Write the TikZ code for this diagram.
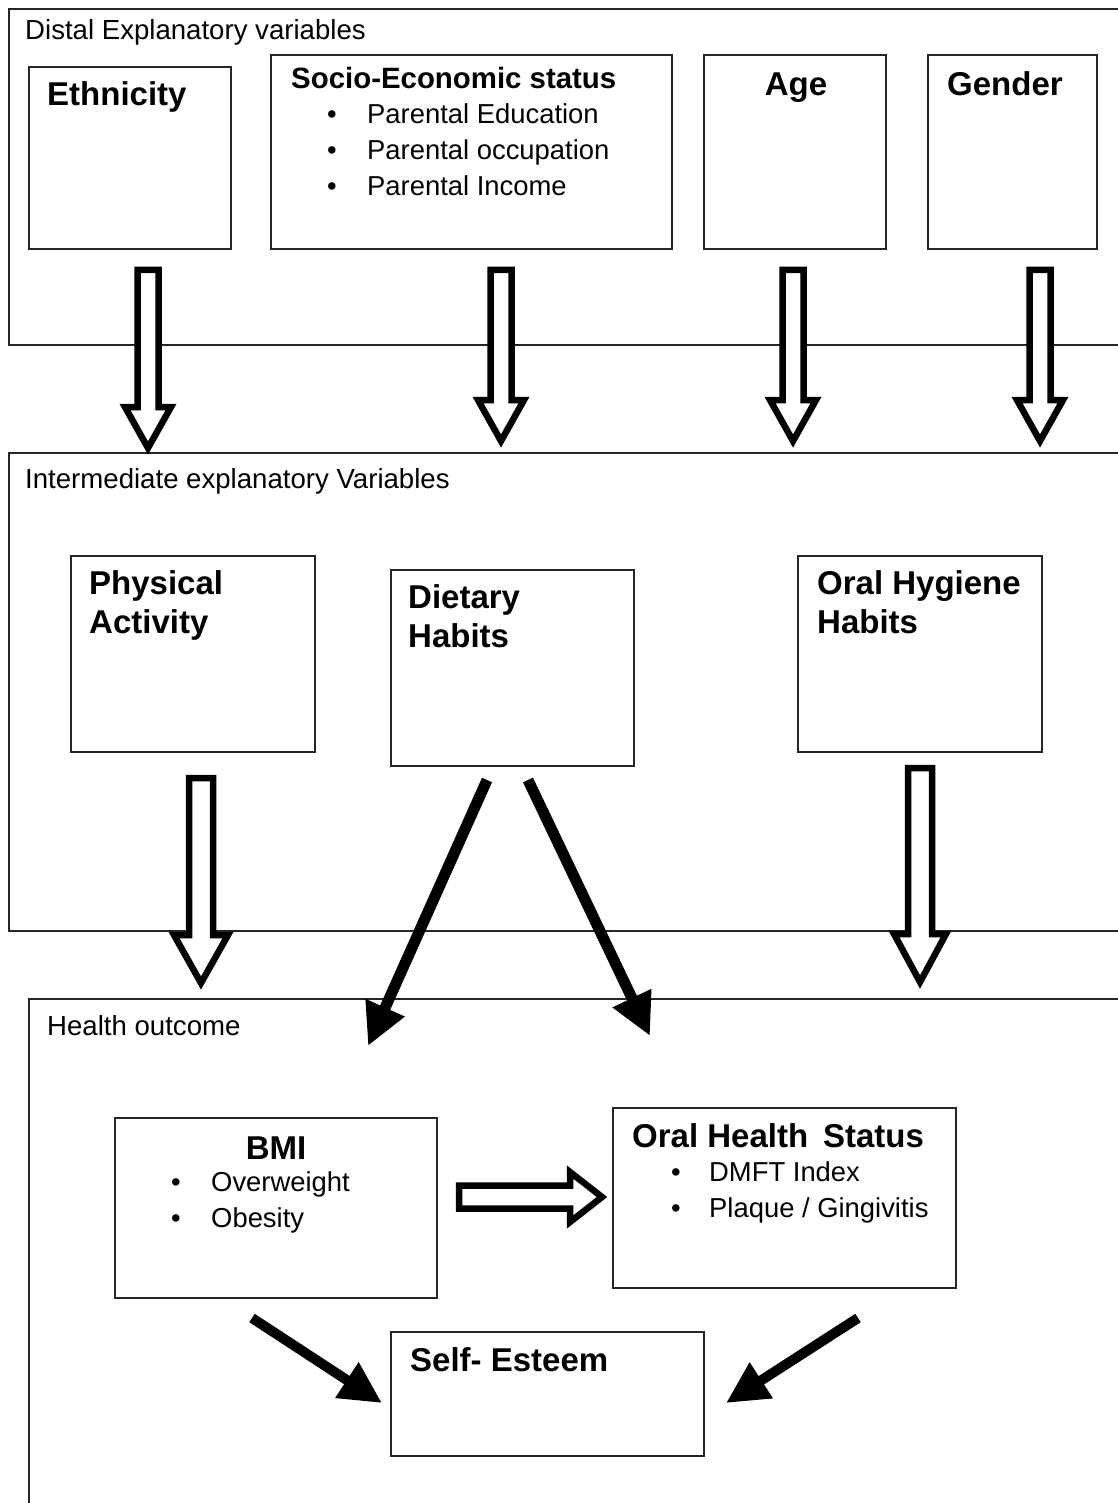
\documentclass[tikz,border=0pt]{standalone}
\usepackage{fontspec}
\setmainfont{Liberation Sans}
\usetikzlibrary{calc,arrows.meta}
\begin{document}
\begin{tikzpicture}[x=1pt,y=-1pt,
  frame/.style={draw=black!85,line width=2pt},
  box/.style={draw=black!85,line width=2pt,fill=white,anchor=north west,inner sep=0pt,outer sep=0pt},
  lab/.style={anchor=base west,inner sep=0pt,font=\fontsize{27.6}{32}\selectfont},
  ttl/.style={anchor=base west,inner sep=0pt,font=\fontsize{33}{38}\selectfont\bfseries},
  itm/.style={anchor=base west,inner sep=0pt,font=\fontsize{27.4}{32}\selectfont},
  bul/.style={anchor=base,inner sep=0pt,font=\fontsize{27.4}{32}\selectfont},
  thickarrow/.style={draw=black,line width=11pt,-{Triangle[length=42pt,width=40pt]}},
  hollow/.style args={#1/#2/#3}{draw=black,line width=6.5pt,fill=white,line join=miter,miter limit=10,
    to path={($(\tikztostart)!#1!90:(\tikztotarget)$)
      -- ($(\tikztotarget)!#3!(\tikztostart)!#1!-90:(\tikztostart)$)
      -- ($(\tikztotarget)!#3!(\tikztostart)!#2!-90:(\tikztostart)$)
      -- (\tikztotarget)
      -- ($(\tikztotarget)!#3!(\tikztostart)!#2!90:(\tikztostart)$)
      -- ($(\tikztotarget)!#3!(\tikztostart)!#1!90:(\tikztostart)$)
      -- ($(\tikztostart)!#1!-90:(\tikztotarget)$) -- cycle}}
]
\fill[white] (0,0) rectangle (1117,1503);
\useasboundingbox (0,0) rectangle (1117,1503);

% frames
\draw[frame] (1130,9) -- (9,9) -- (9,345) -- (1130,345);
\draw[frame] (1130,453) -- (9,453) -- (9,931) -- (1130,931);
\draw[frame] (1130,999) -- (29,999) -- (29,1520);

\node[lab] (distal) at (25,40) {Distal Explanatory variables};
\node[lab] (inter) at (25,488) {Intermediate explanatory Variables};
\node[lab] (health) at (47,1035) {Health outcome};

% distal boxes
\node[box,minimum width=202pt,minimum height=182pt] (eth) at (29,67) {};
\node[box,minimum width=401pt,minimum height=194pt] (ses) at (271,55) {};
\node[box,minimum width=182pt,minimum height=194pt] (age) at (704,55) {};
\node[box,minimum width=169pt,minimum height=194pt] (gen) at (928,55) {};

\node[ttl] (eth-t) at (47,106) {Ethnicity};
\node[ttl,font=\fontsize{29.4}{34}\selectfont\bfseries] (ses-t) at (291,89) {Socio-Economic status};
\node[bul] (ses-b1) at (332,124) {\textbullet};
\node[bul] (ses-b2) at (332,160) {\textbullet};
\node[bul] (ses-b3) at (332,196) {\textbullet};
\node[itm] (ses-i1) at (367,124) {Parental Education};
\node[itm] (ses-i2) at (367,160) {Parental occupation};
\node[itm] (ses-i3) at (367,196) {Parental Income};
\node[ttl,anchor=base] (age-t) at (796,96) {Age};
\node[ttl] (gen-t) at (947,96) {Gender};

% intermediate boxes
\node[box,minimum width=244pt,minimum height=196pt] (pa) at (71,556) {};
\node[box,minimum width=243pt,minimum height=196pt] (dh) at (391,570) {};
\node[box,minimum width=244pt,minimum height=196pt] (oh) at (798,556) {};
\node[ttl] (pa-t1) at (89,594) {Physical};
\node[ttl] (pa-t2) at (89,633) {Activity};
\node[ttl] (dh-t1) at (408,608) {Dietary};
\node[ttl] (dh-t2) at (408,647) {Habits};
\node[ttl] (oh-t1) at (817,594) {Oral Hygiene};
\node[ttl] (oh-t2) at (817,633) {Habits};

% outcome boxes
\node[box,minimum width=322pt,minimum height=180pt] (bmi) at (115,1118) {};
\node[box,minimum width=343pt,minimum height=180pt] (ohs) at (613,1108) {};
\node[box,minimum width=313pt,minimum height=124pt] (se) at (391,1332) {};
\node[ttl,anchor=base] (bmi-t) at (276,1159) {BMI};
\node[bul] (bmi-b1) at (176,1191) {\textbullet};
\node[bul] (bmi-b2) at (176,1227) {\textbullet};
\node[itm] (bmi-i1) at (211,1191) {Overweight};
\node[itm] (bmi-i2) at (211,1227) {Obesity};
\node[ttl] (ohs-t) at (632,1147) {Oral Health\hspace{0.45em}Status};
\node[bul] (ohs-b1) at (676,1181) {\textbullet};
\node[bul] (ohs-b2) at (676,1217) {\textbullet};
\node[itm] (ohs-i1) at (709,1181) {DMFT Index};
\node[itm] (ohs-i2) at (709,1217) {Plaque / Gingivitis};
\node[ttl] (se-t) at (410,1371) {Self- Esteem};

% connector end points
\coordinate (ethA) at (148,270);  \coordinate (ethB) at (148,448);
\coordinate (sesA) at (501,270);  \coordinate (sesB) at (501,441);
\coordinate (ageA) at (793,270);  \coordinate (ageB) at (793,441);
\coordinate (genA) at (1040,270); \coordinate (genB) at (1040,441);
\coordinate (paA) at (201,778);   \coordinate (paB) at (201,983);
\coordinate (ohA) at (920,768);   \coordinate (ohB) at (920,982);
\coordinate (bmiA) at (459,1197); \coordinate (bmiB) at (602,1197);
\coordinate (dhL1) at (487,780);  \coordinate (dhL2) at (368,1046);
\coordinate (dhR1) at (528,780);  \coordinate (dhR2) at (650,1036);
\coordinate (bse1) at (252,1318); \coordinate (bse2) at (382,1403);
\coordinate (ose1) at (858,1318); \coordinate (ose2) at (726,1403);

% hollow block arrows
\draw[hollow=10.5pt/23pt/41pt] (ethA) to (ethB);
\draw[hollow=10.5pt/23pt/41pt] (sesA) to (sesB);
\draw[hollow=10.5pt/23pt/41pt] (ageA) to (ageB);
\draw[hollow=10.5pt/23pt/41pt] (genA) to (genB);
\draw[hollow=12pt/27pt/48pt] (paA) to (paB);
\draw[hollow=12pt/26pt/48pt] (ohA) to (ohB);
\draw[hollow=11.5pt/25pt/32pt] (bmiA) to (bmiB);

% solid arrows
\draw[thickarrow] (dhL1) -- (dhL2);
\draw[thickarrow] (dhR1) -- (dhR2);
\draw[thickarrow,line width=10pt] (bse1) -- (bse2);
\draw[thickarrow,line width=10pt] (ose1) -- (ose2);
\end{tikzpicture}
\end{document}
